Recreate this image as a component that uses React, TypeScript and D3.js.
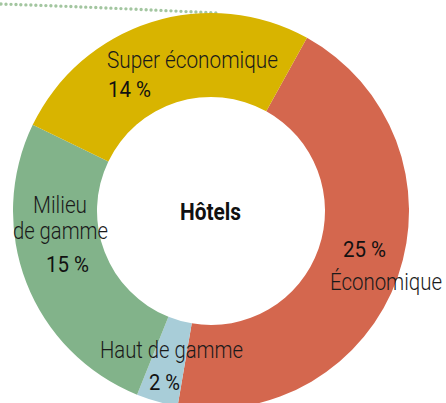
import React from "react";
import * as d3 from "d3";

const categories = ["Économique", "Haut de gamme", "Milieu de gamme", "Super économique"];
const values = [25.0, 1.9, 14.6, 14.5];
const valueLabels = ["25 %", "2 %", "15 %", "14 %"];
const colors = ["#D4674E", "#A8CDD8", "#82B38A", "#D8B400"];
const centerTitle = "Hôtels";

const W = 446;
const H = 403;
const cx = 211;
const cy = 211;
const outerR = 198;
const innerR = 114;
const startDeg = 29;

// label layout: name lines and value position
const labelLayout = [
  { lines: [{ t: "Économique", x: 386, y: 290, w: 112 }], val: { x: 364.5, y: 257, w: 43 }, anchor: "middle" },
  { lines: [{ t: "Haut de gamme", x: 171.5, y: 358, w: 143 }], val: { x: 164.5, y: 390, w: 31 }, anchor: "middle" },
  {
    lines: [
      { t: "Milieu", x: 60, y: 213, w: 54 },
      { t: "de gamme", x: 60.5, y: 239, w: 95 },
    ],
    val: { x: 67.5, y: 272, w: 43 },
    anchor: "middle",
  },
  { lines: [{ t: "Super économique", x: 107, y: 68, w: 171 }], val: { x: 108, y: 97, w: 43 }, anchor: "start" },
];

export default function App() {
  const start = (startDeg * Math.PI) / 180;
  const pie = d3
    .pie<number>()
    .sort(null)
    .value((d) => d)
    .startAngle(start)
    .endAngle(start + 2 * Math.PI);
  const arcs = pie(values);
  const arc = d3.arc<d3.PieArcDatum<number>>().innerRadius(innerR).outerRadius(outerR);

  const dotted = d3.line().curve(d3.curveBasis)([
    [1, 4],
    [100, 7.5],
    [216, 13],
  ]);

  const font = "Roboto, 'Liberation Sans', sans-serif";

  return (
    <svg width={W} height={H} style={{ position: "absolute", left: 0, top: 0 }}>
      <path d={dotted || ""} fill="none" stroke="#A3C6A0" strokeWidth={3.4} strokeLinecap="round" strokeDasharray="0 5" />
      <g transform={`translate(${cx},${cy})`}>
        {arcs.map((a, i) => (
          <path key={categories[i]} d={arc(a) || ""} fill={colors[i]} />
        ))}
      </g>
      <text
        x={210.5}
        y={220}
        textAnchor="middle"
        fontFamily={font}
        fontWeight={700}
        fontSize={23}
        fill="#111"
        textLength={61}
        lengthAdjust="spacingAndGlyphs"
      >
        {centerTitle}
      </text>
      {labelLayout.map((L, i) => (
        <g key={categories[i]}>
          {L.lines.map((ln) => (
            <text
              key={ln.t}
              x={ln.x}
              y={ln.y}
              textAnchor={L.anchor as any}
              fontFamily={font}
              fontWeight={300}
              fontSize={24}
              fill="#1a1a1a"
              textLength={ln.w}
              lengthAdjust="spacingAndGlyphs"
            >
              {ln.t}
            </text>
          ))}
          <text
            x={L.val.x}
            y={L.val.y}
            textAnchor={L.anchor as any}
            fontFamily={font}
            fontWeight={400}
            fontSize={22}
            fill="#111"
            textLength={L.val.w}
            lengthAdjust="spacingAndGlyphs"
          >
            {valueLabels[i]}
          </text>
        </g>
      ))}
    </svg>
  );
}
